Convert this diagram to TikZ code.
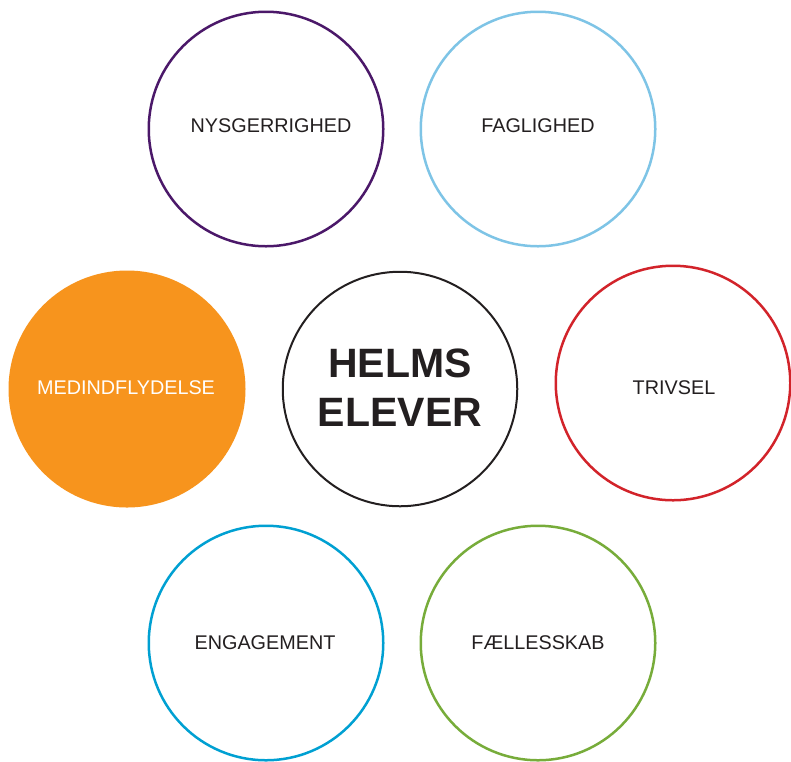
\documentclass[tikz,border=0pt]{standalone}
\usepackage{fontspec}
\setmainfont{Liberation Sans}
\definecolor{cpurple}{HTML}{4B1869}
\definecolor{clblue}{HTML}{7EC4E6}
\definecolor{corange}{HTML}{F7941D}
\definecolor{cred}{HTML}{D2232A}
\definecolor{cblue}{HTML}{00A0D2}
\definecolor{cgreen}{HTML}{77AC3A}
\definecolor{cdark}{HTML}{231F20}
\begin{document}
\begin{tikzpicture}[x=1pt,y=-1pt,
  ring/.style={circle,draw,line width=2.5pt,minimum size=234.5pt,inner sep=0pt,fill=white},
  word/.style={inner sep=0pt,text=cdark,font=\fontsize{19.8}{22}\selectfont},
  hub/.style={inner sep=0pt,text=cdark,align=center,font=\fontsize{41}{49}\selectfont\bfseries}]
\useasboundingbox (0,0) rectangle (791,761);
\node[ring,draw=cpurple] (nys) at (266,129) {};
\node[ring,draw=clblue] (fag) at (538,129) {};
\node[ring,draw=corange,fill=corange] (med) at (127,389) {};
\node[ring,draw=cdark,line width=2pt] (helms) at (400,389) {};
\node[ring,draw=cred] (triv) at (673,383) {};
\node[ring,draw=cblue] (eng) at (266,643) {};
\node[ring,draw=cgreen] (fael) at (538,643) {};
\node[word] (tnys) at (271,126) {NYSGERRIGHED};
\node[word] (tfag) at (538,126) {FAGLIGHED};
\node[word,text=white] (tmed) at (126,387.5) {MEDINDFLYDELSE};
\node[hub] (thelms) at (400,388) {HELMS\\ELEVER};
\node[word] (ttriv) at (674,387.5) {TRIVSEL};
\node[word] (teng) at (265,642.5) {ENGAGEMENT};
\node[word] (tfael) at (538,642.5) {FÆLLESSKAB};
\end{tikzpicture}
\end{document}
